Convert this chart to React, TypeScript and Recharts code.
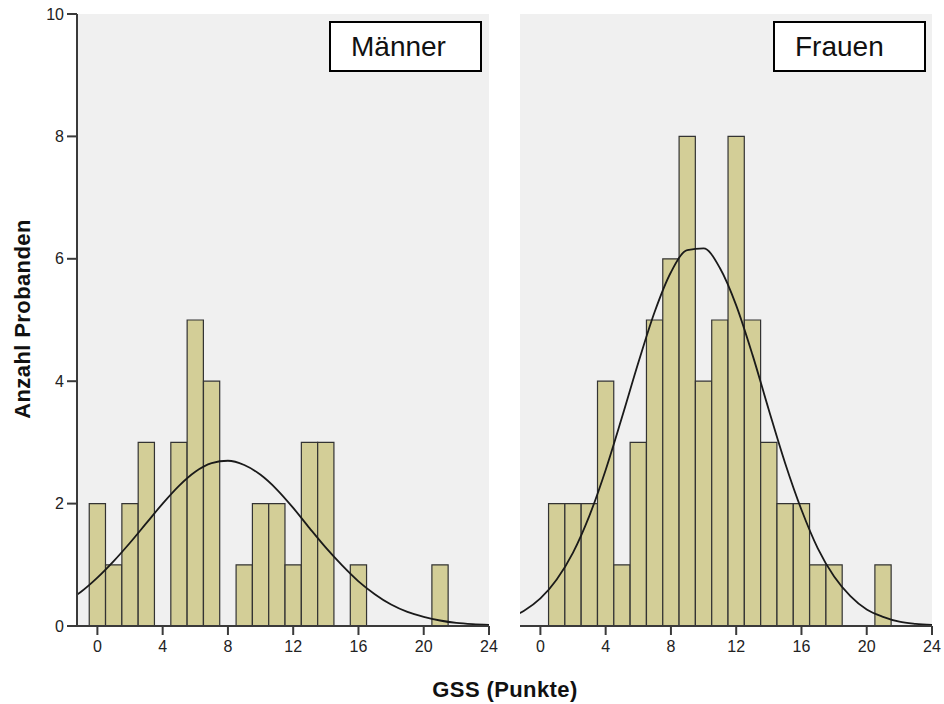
import React from 'react';
import {
  ComposedChart,
  Bar,
  Line,
  XAxis,
  YAxis,
  CartesianGrid,
} from 'recharts';

// GSS score bins (x = score, one bar per point)
const scoreBins = [0, 1, 2, 3, 4, 5, 6, 7, 8, 9, 10, 11, 12, 13, 14, 15, 16, 17, 18, 19, 20, 21];
const maennerCounts = [2, 1, 2, 3, 0, 3, 5, 4, 0, 1, 2, 2, 1, 3, 3, 0, 1, 0, 0, 0, 0, 1];
const frauenCounts = [0, 2, 2, 2, 4, 1, 3, 5, 6, 8, 4, 5, 8, 5, 3, 2, 2, 1, 1, 0, 0, 1];

// normal curve (the -2 point is clipped at the frame)
const curveX = [-2, -1, 0, 1, 2, 3, 4, 5, 6, 7, 8, 9, 10, 11, 12, 13, 14, 15, 16, 17, 18, 19, 20, 21, 22, 23, 24];
const maennerCurve = [0.39, 0.56, 0.79, 1.06, 1.36, 1.68, 2.0, 2.29, 2.52, 2.66, 2.7, 2.63, 2.47, 2.23, 1.93, 1.6, 1.28, 0.99, 0.73, 0.52, 0.35, 0.23, 0.15, 0.09, 0.05, 0.03, 0.02];
const frauenCurve = [0.13, 0.25, 0.45, 0.76, 1.2, 1.8, 2.55, 3.41, 4.3, 5.13, 5.78, 6.14, 6.17, 5.85, 5.24, 4.43, 3.53, 2.66, 1.9, 1.27, 0.81, 0.49, 0.27, 0.15, 0.07, 0.035, 0.016];

const xTicks = [0, 4, 8, 12, 16, 20, 24];
const yTicks = [0, 2, 4, 6, 8, 10];
const xDomain: [number, number] = [-1.25, 24];

const PLOT_W = 412;
const CHART_H = 704;
// just under one bin wide, otherwise recharts shrinks bars to 90%
const barSize = Math.floor((PLOT_W / (xDomain[1] - xDomain[0])) * 10) / 10 - 0.05;

function buildRows(counts: number[], curve: number[]) {
  const rows: { x: number; count: number | null; curve: number | null }[] = [];
  curveX.forEach((x, i) => {
    const bi = scoreBins.indexOf(x);
    const c = bi >= 0 ? counts[bi] : 0;
    rows.push({ x, count: c > 0 ? c : null, curve: curve[i] });
  });
  return rows;
}

const tickStyle = { fontSize: 16, fill: '#222', fontFamily: 'Liberation Sans, Arial, sans-serif' };
const darkAxis = { stroke: '#3a3a3a', strokeWidth: 2 };
const lightAxis = { stroke: '#8c8c8c', strokeWidth: 2 };

function Panel({ counts, curve, showY }: { counts: number[]; curve: number[]; showY: boolean }) {
  const data = buildRows(counts, curve);
  const leftW = showY ? 77 : 0;
  const marginLeft = showY ? 0 : 15;
  const width = leftW + marginLeft + PLOT_W + 12;
  return (
    <ComposedChart
      width={width}
      height={CHART_H}
      data={data}
      margin={{ top: 14, right: 12, bottom: 38, left: marginLeft }}
    >
      <CartesianGrid horizontal={false} vertical={false} fill="#f0f0f0" />
      <XAxis
        dataKey="x"
        type="number"
        domain={xDomain}
        ticks={xTicks}
        allowDataOverflow
        height={40}
        tick={tickStyle}
        tickSize={9}
        tickMargin={6}
        axisLine={darkAxis}
        tickLine={{ stroke: '#3a3a3a', strokeWidth: 2 }}
      />
      <XAxis
        xAxisId="top"
        dataKey="x"
        type="number"
        orientation="top"
        domain={xDomain}
        allowDataOverflow
        height={0}
        tick={false}
        tickLine={false}
        axisLine={lightAxis}
      />
      <YAxis
        type="number"
        domain={[0, 10]}
        ticks={yTicks}
        width={leftW}
        tick={showY ? tickStyle : false}
        tickLine={showY ? { stroke: '#3a3a3a', strokeWidth: 2 } : false}
        tickSize={10}
        tickMargin={3}
        axisLine={darkAxis}
      />
      <YAxis
        yAxisId="right"
        orientation="right"
        domain={[0, 10]}
        width={0}
        tick={false}
        tickLine={false}
        axisLine={lightAxis}
      />
      <Bar
        dataKey="count"
        barSize={barSize}
        fill="#d3ce97"
        stroke="#333"
        strokeWidth={1.2}
        isAnimationActive={false}
      />
      <Line
        dataKey="curve"
        type="monotone"
        stroke="#1a1a1a"
        strokeWidth={1.8}
        dot={false}
        activeDot={false}
        isAnimationActive={false}
      />
    </ComposedChart>
  );
}

const boxStyle: React.CSSProperties = {
  position: 'absolute',
  top: 21,
  width: 153,
  height: 51,
  boxSizing: 'border-box',
  border: '2px solid #000',
  background: '#fff',
  fontFamily: 'Liberation Sans, Arial, sans-serif',
  fontSize: 28,
  lineHeight: '47px',
  paddingLeft: 20,
  color: '#111',
};

const titleStyle: React.CSSProperties = {
  position: 'absolute',
  whiteSpace: 'nowrap',
  fontFamily: 'Liberation Sans, Arial, sans-serif',
  fontWeight: 'bold',
  fontSize: 22,
  letterSpacing: 0.4,
  color: '#111',
};

export default function App() {
  return (
    <div style={{ position: 'absolute', left: 0, top: 0, width: 944, height: 704, background: '#fff' }}>
      <div style={{ position: 'absolute', left: 0, top: 0 }}>
        <Panel counts={maennerCounts} curve={maennerCurve} showY />
      </div>
      <div style={{ position: 'absolute', left: 505, top: 0 }}>
        <Panel counts={frauenCounts} curve={frauenCurve} showY={false} />
      </div>
      <div style={{ ...boxStyle, left: 329 }}>Männer</div>
      <div style={{ ...boxStyle, left: 773 }}>Frauen</div>
      <div
        style={{
          ...titleStyle,
          left: 23,
          top: 319,
          transform: 'translate(-50%, -50%) rotate(-90deg)',
        }}
      >
        Anzahl Probanden
      </div>
      <div
        style={{
          ...titleStyle,
          left: 505,
          top: 690,
          transform: 'translate(-50%, -50%)',
        }}
      >
        GSS (Punkte)
      </div>
    </div>
  );
}
